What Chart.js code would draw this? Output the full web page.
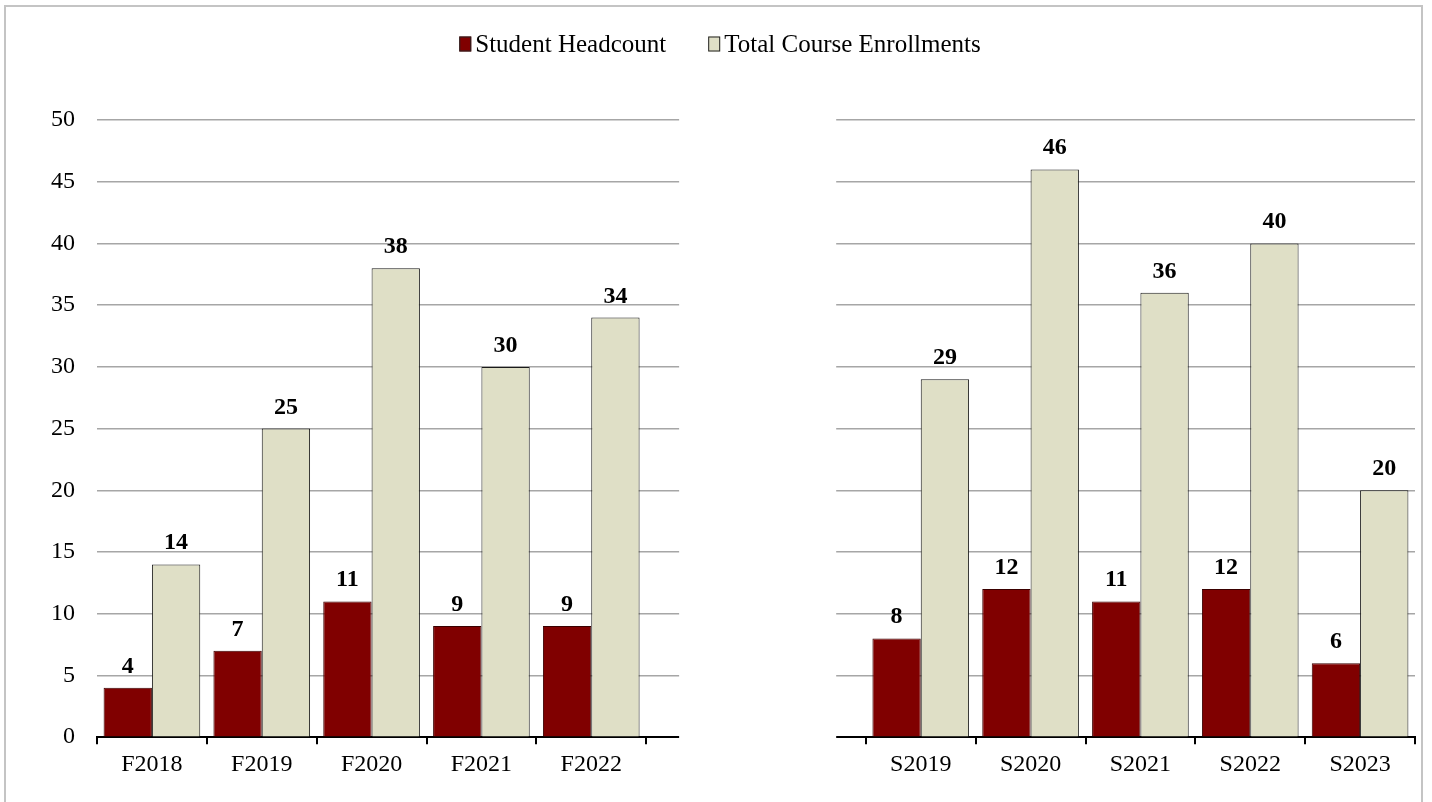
<!DOCTYPE html>
<html>
<head>
<meta charset="utf-8">
<script src="https://cdn.jsdelivr.net/npm/chart.js@4.4.0/dist/chart.umd.min.js"></script>
<style>
  html, body { margin: 0; padding: 0; background: #fff; }
  #wrap { position: relative; width: 1432px; height: 802px; }
  #frame { position: absolute; left: 4px; top: 5px; width: 1419px; height: 805px; border: 2px solid #c4c4c4; box-sizing: border-box; }
</style>
</head>
<body>
<div id="wrap">
  <canvas id="chart"></canvas>
  <div id="frame"></div>
</div>
<script>
// fall terms, two empty slots, then spring terms
const terms = ['F2018', 'F2019', 'F2020', 'F2021', 'F2022', '', '', 'S2019', 'S2020', 'S2021', 'S2022', 'S2023'];
const headcount = [4, 7, 11, 9, 9, null, null, 8, 12, 11, 12, 6];
const enrollments = [14, 25, 38, 30, 34, null, null, 29, 46, 36, 40, 20];
const yTicks = [0, 5, 10, 15, 20, 25, 30, 35, 40, 45, 50];

const SERIF = '"Liberation Serif", "Times New Roman", serif';

// blank out the gap between the fall and spring panels
const gapPlugin = {
  id: 'gap',
  beforeDatasetsDraw(chart) {
    const x = chart.scales.x;
    const slot = x.getPixelForValue(1) - x.getPixelForValue(0);
    const from = x.getPixelForValue(5) - slot / 2 + slot * 0.3;
    const to = x.getPixelForValue(7) - slot / 2 - slot * 0.27;
    const ctx = chart.ctx;
    ctx.save();
    ctx.fillStyle = '#fff';
    ctx.fillRect(from, chart.chartArea.top - 3, to - from, chart.chartArea.bottom - chart.chartArea.top + 14);
    ctx.restore();
  }
};

// bold value labels over each bar
const valueLabels = {
  id: 'valueLabels',
  afterDatasetsDraw(chart) {
    const ctx = chart.ctx;
    ctx.save();
    ctx.font = 'bold 24px ' + SERIF;
    ctx.fillStyle = '#000';
    ctx.textAlign = 'center';
    ctx.textBaseline = 'alphabetic';
    chart.data.datasets.forEach((ds, i) => {
      chart.getDatasetMeta(i).data.forEach((bar, j) => {
        if (ds.data[j] == null) return;
        ctx.fillText(ds.data[j], bar.x, bar.y - 15);
      });
    });
    ctx.restore();
  }
};

// legend like the office one: small box, text right next to it
const topLegend = {
  id: 'topLegend',
  afterDraw(chart) {
    const ctx = chart.ctx;
    const gap = 42, boxW = 12, boxH = 15, textGap = 4, cy = 44;
    ctx.save();
    ctx.font = '25px ' + SERIF;
    const items = chart.data.datasets.map(ds => ({ ds, w: boxW + textGap + ctx.measureText(ds.label).width }));
    const total = items.reduce((s, it) => s + it.w, 0) + gap * (items.length - 1);
    let x = 720 - total / 2;
    items.forEach(({ ds, w }) => {
      ctx.fillStyle = ds.backgroundColor;
      ctx.fillRect(x, cy - boxH / 2, boxW, boxH);
      ctx.strokeStyle = '#222';
      ctx.lineWidth = 1;
      ctx.strokeRect(x + 0.5, cy - boxH / 2 + 0.5, boxW - 1, boxH - 1);
      ctx.fillStyle = '#000';
      ctx.textBaseline = 'middle';
      ctx.fillText(ds.label, x + boxW + textGap, cy + 1);
      x += w + gap;
    });
    ctx.restore();
  }
};

new Chart(document.getElementById('chart'), {
  type: 'bar',
  data: {
    labels: terms,
    datasets: [
      {
        label: 'Student Headcount',
        data: headcount,
        backgroundColor: '#800000',
        borderColor: '#3a0000',
        borderWidth: 1,
        borderSkipped: 'bottom',
      },
      {
        label: 'Total Course Enrollments',
        data: enrollments,
        backgroundColor: '#dfdfc6',
        borderColor: '#1a1a1a',
        borderWidth: 1,
        borderSkipped: 'bottom',
      },
    ],
  },
  options: {
    responsive: true, maintainAspectRatio: false,
    animation: false,
    layout: { padding: { left: 29, right: 17, top: 120, bottom: 17 } },
    datasets: { bar: { categoryPercentage: 0.88, barPercentage: 1 } },
    plugins: {
      legend: { display: false },
      tooltip: { enabled: false },
    },
    scales: {
      x: {
        grid: { display: true, drawOnChartArea: false, drawTicks: true, tickLength: 7, color: '#000', lineWidth: 2 },
        border: { display: true, color: '#000', width: 2 },
        ticks: { color: '#000', font: { family: SERIF, size: 24 }, padding: 6, maxRotation: 0, autoSkip: false },
      },
      y: {
        min: 0, max: 50,
        afterBuildTicks(scale) { scale.ticks = yTicks.map(v => ({ value: v })); },
        grid: { color: '#a6a6a6', lineWidth: 1.5, drawTicks: false },
        border: { display: false },
        ticks: { color: '#000', font: { family: SERIF, size: 24 }, padding: 22 },
      },
    },
  },
  plugins: [gapPlugin, valueLabels, topLegend],
});
</script>
</body>
</html>
